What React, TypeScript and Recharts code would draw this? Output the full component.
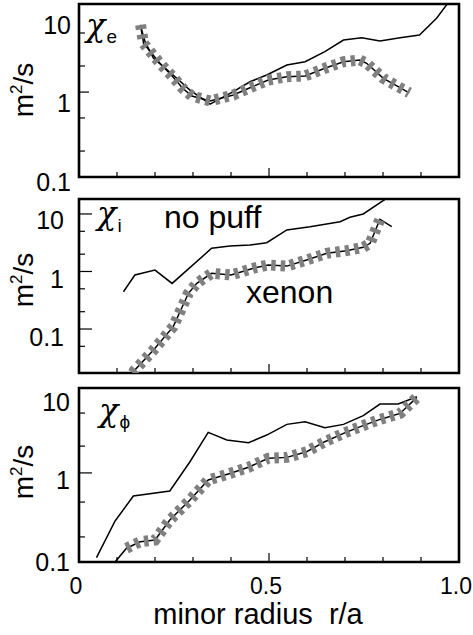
import React from 'react';
import { LineChart, Line, XAxis, YAxis, ReferenceArea, Customized } from 'recharts';

const FONT = '"Liberation Sans", Arial, Helvetica, sans-serif';
const SERIF = '"DejaVu Serif", "Liberation Serif", serif';

// x axis (minor radius r/a)
const radiusTicks = [0, 0.1, 0.2, 0.3, 0.4, 0.5, 0.6, 0.7, 0.8, 0.9, 1.0];
const radiusLabels: [number, string][] = [[0, '0'], [0.5, '0.5'], [1.0, '1.0']];

// chi_e panel  [r/a, m^2/s]
const chiENoPuff: [number, number][] = [
  [0.161, 11.0], [0.174, 6.5], [0.196, 3.92], [0.222, 3.03], [0.253, 2.22], [0.292, 1.47],
  [0.345, 0.95], [0.406, 1.4], [0.45, 1.9], [0.494, 2.34], [0.547, 3.18], [0.595, 3.53],
  [0.647, 4.81], [0.696, 6.9], [0.744, 7.41], [0.792, 6.7], [0.845, 7.41], [0.896, 8.05],
  [0.941, 13.5], [0.972, 22],
];
const chiEXenon: [number, number][] = [
  [0.162, 11.0], [0.17, 6.2], [0.213, 3.36], [0.248, 2.18], [0.273, 1.55], [0.297, 1.22],
  [0.345, 1.05], [0.406, 1.26], [0.45, 1.58], [0.498, 2.0], [0.547, 2.22], [0.595, 2.27],
  [0.647, 2.88], [0.696, 3.53], [0.739, 3.72], [0.757, 3.36], [0.801, 2.11], [0.84, 1.63],
  [0.869, 1.35],
];

// chi_i panel
const chiINoPuff: [number, number][] = [
  [0.117, 0.445], [0.147, 0.87], [0.2, 1.06], [0.245, 0.62], [0.349, 2.53], [0.397, 2.78],
  [0.45, 2.89], [0.494, 3.17], [0.547, 5.27], [0.608, 6.01], [0.687, 7.35], [0.713, 8.77],
  [0.748, 10.0], [0.81, 18.8],
];
const chiIXenon: [number, number][] = [
  [0.142, 0.0172], [0.147, 0.0194], [0.196, 0.0431], [0.248, 0.11], [0.288, 0.418],
  [0.31, 0.624], [0.349, 0.93], [0.40, 0.87], [0.459, 1.14], [0.498, 1.3], [0.547, 1.24],
  [0.599, 1.58], [0.652, 2.07], [0.704, 2.3], [0.748, 2.63], [0.766, 3.09], [0.792, 8.07],
  [0.823, 6.02],
];

// chi_phi panel
const chiPhiNoPuff: [number, number][] = [
  [0.046, 0.113], [0.095, 0.321], [0.143, 0.653], [0.239, 0.753], [0.292, 1.73], [0.34, 3.99],
  [0.389, 3.21], [0.446, 2.97], [0.494, 3.7], [0.547, 5.01], [0.595, 5.4], [0.647, 4.55],
  [0.696, 5.01], [0.748, 6.41], [0.792, 8.93], [0.84, 8.93], [0.889, 11.0],
];
const chiPhiXenon: [number, number][] = [
  [0.046, 0.1], [0.095, 0.1], [0.125, 0.148], [0.161, 0.178], [0.2, 0.187], [0.239, 0.33],
  [0.292, 0.583], [0.34, 1.03], [0.397, 1.24], [0.446, 1.48], [0.498, 1.91], [0.547, 1.96],
  [0.599, 2.3], [0.647, 3.06], [0.696, 3.88], [0.744, 4.77], [0.792, 5.77], [0.845, 6.84],
  [0.889, 10.8],
];

// y tick marks [value, isLong] and labelled values [value, dy]
const chiEMarks: [number, boolean][] = [[8.57, false], [3.09, false], [1.38, true], [0.62, false], [0.223, false]];
const chiELabels: [number, number][] = [[10, -3], [1, 0], [0.1, 5]];
const chiIMarks: [number, boolean][] = [[10, true], [5, false], [2, false], [1, true], [0.5, false], [0.2, false], [0.1, true], [0.05, false]];
const chiILabels: [number, number][] = [[10, 6], [1, 8], [0.1, 8]];
const chiPhiMarks: [number, boolean][] = [[6.91, false], [2.7, false], [1.26, true], [0.55, false], [0.204, false]];
const chiPhiLabels: [number, number][] = [[10, 2], [1, -1], [0.1, 0]];

const toRows = (pts: [number, number][]) => pts.map(([r, v]) => ({ r, v }));
const near = (a: number, b: number) => Math.abs(a - b) < 1e-6;

const PLOT_LEFT = 79;
const PLOT_RIGHT = 459;
const W = 473;

type PanelProps = {
  top: number;
  height: number;
  plotTop: number;
  plotBottom: number;
  domain: [number, number];
  marks: [number, boolean][];
  labels: [number, number][];
  labelRight: number;
  longLen: number;
  noPuff: [number, number][];
  xenon: [number, number][];
  band: [number, number][];
  showX: boolean;
  overlay: React.ReactNode;
};

function Panel(p: PanelProps) {
  const yTicks = Array.from(new Set([...p.marks.map((m) => m[0]), ...p.labels.map((l) => l[0])])).sort((a, b) => a - b);

  const renderY = (props: any) => {
    const v = props.payload.value;
    const y = props.y;
    const mark = p.marks.find((m) => near(m[0], v));
    const lab = p.labels.find((l) => near(l[0], v));
    return (
      <g>
        {mark && (
          <line x1={PLOT_LEFT} x2={PLOT_LEFT + (mark[1] ? p.longLen : 6)} y1={y} y2={y} stroke="#000" strokeWidth={1.2} />
        )}
        {lab && (
          <text x={p.labelRight} y={y + lab[1] + 9} textAnchor="end" fontSize={25} fontFamily={FONT} fill="#000">
            {v >= 1 ? String(v) : '0.1'}
          </text>
        )}
      </g>
    );
  };

  const renderX = (props: any) => {
    const v = props.payload.value;
    const x = props.x;
    const edge = near(v, 0) || near(v, 1);
    const long = near(v, 0.5);
    const lab = radiusLabels.find((l) => near(l[0], v));
    return (
      <g>
        {!edge && (
          <line x1={x} x2={x} y1={p.plotBottom} y2={p.plotBottom - (long ? 9 : 5)} stroke="#000" strokeWidth={1.2} />
        )}
        {p.showX && lab && (
          <text x={x - 3} y={p.plotBottom + 32} textAnchor="middle" fontSize={23} fontFamily={FONT} fill="#000">
            {lab[1]}
          </text>
        )}
      </g>
    );
  };

  const bandColor = '#808080';

  return (
    <div style={{ position: 'absolute', left: 0, top: p.top }}>
      <LineChart
        width={W}
        height={p.height}
        margin={{ top: p.plotTop, right: W - PLOT_RIGHT, left: 0, bottom: 0 }}
      >
        <XAxis
          dataKey="r"
          type="number"
          domain={[0, 1]}
          ticks={radiusTicks}
          interval={0}
          allowDataOverflow
          height={p.height - p.plotBottom}
          axisLine={false}
          tickLine={false}
          tick={renderX}
        />
        <YAxis
          dataKey="v"
          type="number"
          scale="log"
          domain={p.domain}
          allowDataOverflow
          ticks={yTicks}
          interval={0}
          width={PLOT_LEFT}
          axisLine={false}
          tickLine={false}
          tick={renderY}
        />
        <Line data={toRows(p.noPuff)} dataKey="v" stroke="#000" strokeWidth={1.5} dot={false} isAnimationActive={false} type="linear" />
        <Line data={toRows(p.xenon)} dataKey="v" stroke="#000" strokeWidth={1.5} dot={false} isAnimationActive={false} type="linear" />
        <Line
          data={toRows(p.band)}
          dataKey="v"
          stroke={bandColor}
          strokeWidth={11}
          strokeDasharray="4.5 5"
          dot={false}
          isAnimationActive={false}
          type="linear"
        />
        <ReferenceArea
          x1={0}
          x2={1}
          y1={p.domain[0]}
          y2={p.domain[1]}
          fill="none"
          fillOpacity={0}
          stroke="#000"
          strokeWidth={2.6}
          ifOverflow="visible"
        />
        <Customized component={() => <g>{p.overlay}</g>} />
      </LineChart>
    </div>
  );
}

function UnitLabel({ cy }: { cy: number }) {
  return (
    <text
      x={33}
      y={cy}
      transform={`rotate(-90, 33, ${cy})`}
      textAnchor="middle"
      fontSize={28}
      fontFamily={FONT}
      fill="#000"
    >
      m<tspan fontSize={17} dy={-11}>2</tspan><tspan dy={11}>/s</tspan>
    </text>
  );
}

function Chi({ x, y, sub, subDy }: { x: number; y: number; sub: string; subDy: number }) {
  return (
    <text x={x} y={y} fontSize={32} fontFamily={SERIF} fontStyle="italic" fill="#000">
      χ<tspan fontSize={19} fontFamily={FONT} fontStyle="normal" dx={1} dy={subDy}>{sub}</tspan>
    </text>
  );
}

export default function App() {
  return (
    <div style={{ position: 'absolute', left: 0, top: 0, width: W, height: 635, background: '#fff' }}>
      <Panel
        top={0}
        height={198}
        plotTop={4}
        plotBottom={177}
        domain={[0.1, 21.0]}
        marks={chiEMarks}
        labels={chiELabels}
        labelRight={71}
        longLen={10}
        noPuff={chiENoPuff}
        xenon={chiEXenon}
        band={chiEXenon}
        showX={false}
        overlay={
          <>
            <UnitLabel cy={90} />
            <Chi x={86} y={36} sub="e" subDy={7} />
          </>
        }
      />
      <Panel
        top={190}
        height={190}
        plotTop={9}
        plotBottom={183}
        domain={[0.0172, 18.2]}
        marks={chiIMarks}
        labels={chiILabels}
        labelRight={64}
        longLen={13}
        noPuff={chiINoPuff}
        xenon={chiIXenon}
        band={chiIXenon.slice(0, -1)}
        showX={false}
        overlay={
          <>
            <UnitLabel cy={90} />
            <Chi x={97} y={34} sub="i" subDy={8} />
            <text x={164} y={38} fontSize={32} fontFamily={FONT} fill="#000">no puff</text>
            <text x={246} y={113} fontSize={32} fontFamily={FONT} fill="#000">xenon</text>
          </>
        }
      />
      <Panel
        top={380}
        height={255}
        plotTop={8}
        plotBottom={182}
        domain={[0.1, 14.1]}
        marks={chiPhiMarks}
        labels={chiPhiLabels}
        labelRight={70}
        longLen={13}
        noPuff={chiPhiNoPuff}
        xenon={chiPhiXenon}
        band={chiPhiXenon.slice(2)}
        showX={true}
        overlay={
          <>
            <UnitLabel cy={92} />
            <Chi x={99} y={41} sub="ϕ" subDy={7} />
            <text x={258} y={244} textAnchor="middle" fontSize={29} fontFamily={FONT} fill="#000">
              {'minor radius\u00a0\u00a0r/a'}
            </text>
          </>
        }
      />
    </div>
  );
}
